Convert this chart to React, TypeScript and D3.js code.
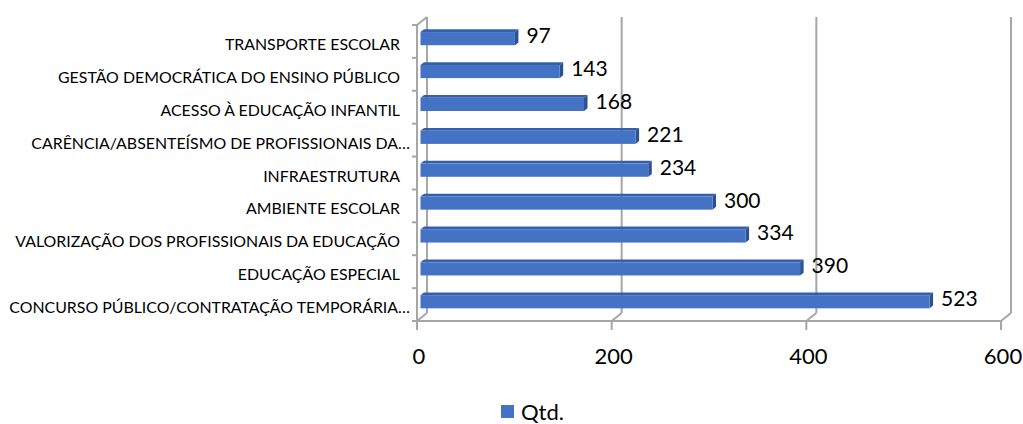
import React from 'react';
import * as d3 from 'd3';

const categories = [
  'TRANSPORTE ESCOLAR',
  'GESTÃO DEMOCRÁTICA DO ENSINO PÚBLICO',
  'ACESSO À EDUCAÇÃO INFANTIL',
  'CARÊNCIA/ABSENTEÍSMO DE PROFISSIONAIS DA…',
  'INFRAESTRUTURA',
  'AMBIENTE ESCOLAR',
  'VALORIZAÇÃO DOS PROFISSIONAIS DA EDUCAÇÃO',
  'EDUCAÇÃO ESPECIAL',
  'CONCURSO PÚBLICO/CONTRATAÇÃO TEMPORÁRIA…',
];
const qtd = [97, 143, 168, 221, 234, 300, 334, 390, 523];
const xTicks = [0, 200, 400, 600];
const seriesName = 'Qtd.';

const width = 1023;
const height = 424;
const font = 'Lato, "Open Sans", sans-serif';

// 3D projection: depth t in [0,1] shifts by (depthX*t, depthY*t)
const depthX = 10;
const depthY = -8;
const barFrontT = 0.35;
const barBackT = 0.7;

const App: React.FC = () => {
  const x = d3.scaleLinear().domain([0, 600]).range([417, 1001]);
  const y = d3.scaleBand<string>().domain(categories).range([25, 321]).paddingInner(0.6).paddingOuter(0.3);
  const yFloor = 321;
  const yTop = 25;

  const grid = '#a6a6a6';
  const off = (t: number) => [depthX * t, depthY * t];
  const [fx, fy] = off(barFrontT);
  const [bx, by] = off(barBackT);
  const sdx = bx - fx;
  const sdy = by - fy;

  // category boundary ticks on the front left axis
  const step = (yFloor - yTop) / categories.length;
  const boundaries = d3.range(categories.length + 1).map(i => yTop + i * step);

  return (
    <div style={{ position: 'absolute', left: 0, top: 0 }}>
      <svg width={width} height={height} style={{ display: 'block', background: '#fff' }}>
        {/* left wall */}
        <g stroke={grid} strokeWidth={2} fill="none">
          <line x1={x(0)} y1={yTop} x2={x(0)} y2={yFloor} />
          <line x1={x(0) + depthX} y1={yTop + depthY} x2={x(0) + depthX} y2={yFloor + depthY} />
          <line x1={x(0)} y1={yTop} x2={x(0) + depthX} y2={yTop + depthY} />
          {boundaries.map((b, i) => (
            <line key={i} x1={x(0) - 5} y1={b} x2={x(0)} y2={b} />
          ))}
          {/* floor front edge */}
          <line x1={x(0)} y1={yFloor} x2={x(600)} y2={yFloor} />
          {/* gridlines on back wall + floor diagonals + ticks */}
          {xTicks.map(t => (
            <g key={t}>
              {t > 0 && (
                <line x1={x(t) + depthX} y1={yTop + depthY} x2={x(t) + depthX} y2={yFloor + depthY} />
              )}
              <line x1={x(t)} y1={yFloor} x2={x(t) + depthX} y2={yFloor + depthY} />
              <line x1={x(t)} y1={yFloor} x2={x(t)} y2={yFloor + 9} />
            </g>
          ))}
        </g>

        {/* bars */}
        {categories.map((c, i) => {
          const x0 = x(0) + fx;
          const x1 = x(qtd[i]) + fx;
          const y0 = (y(c) as number) + fy;
          const h = y.bandwidth();
          const top = [[x0, y0], [x1, y0], [x1 + sdx, y0 + sdy], [x0 + sdx, y0 + sdy]];
          const side = [[x1, y0], [x1 + sdx, y0 + sdy], [x1 + sdx, y0 + h + sdy], [x1, y0 + h]];
          return (
            <g key={c}>
              <polygon points={top.map(p => p.join(',')).join(' ')} fill="#3460ab" />
              <polygon points={side.map(p => p.join(',')).join(' ')} fill="#2c5190" />
              <rect x={x0} y={y0} width={x1 - x0} height={h} fill="#4472c4" />
            </g>
          );
        })}

        {/* value labels */}
        {categories.map((c, i) => (
          <text
            key={c}
            x={x(qtd[i]) + bx + 8}
            y={(y(c) as number) + fy + y.bandwidth() / 2 - 4}
            dominantBaseline="central"
            fontFamily={font}
            fontSize={21}
            fill="#000"
          >
            {qtd[i]}
          </text>
        ))}

        {/* category labels (truncated ones overhang a little, as in Excel) */}
        {categories.map((c, i) => (
          <text
            key={c}
            x={c.endsWith('…') ? 410 : 400}
            y={yTop + (i + 0.5) * step + 2}
            textAnchor="end"
            dominantBaseline="central"
            fontFamily={font}
            fontSize={15.9}
            fill="#000"
          >
            {c}
          </text>
        ))}

        {/* x tick labels */}
        {xTicks.map(t => (
          <text
            key={t}
            x={x(t) + 2}
            y={355}
            textAnchor="middle"
            dominantBaseline="central"
            fontFamily={font}
            fontSize={22}
            fill="#000"
          >
            {t}
          </text>
        ))}

        {/* legend */}
        <rect x={501} y={405} width={13} height={13} fill="#4472c4" />
        <text x={521} y={411} dominantBaseline="central" fontFamily={font} fontSize={22} fill="#000">
          {seriesName}
        </text>
      </svg>
    </div>
  );
};

export default App;
